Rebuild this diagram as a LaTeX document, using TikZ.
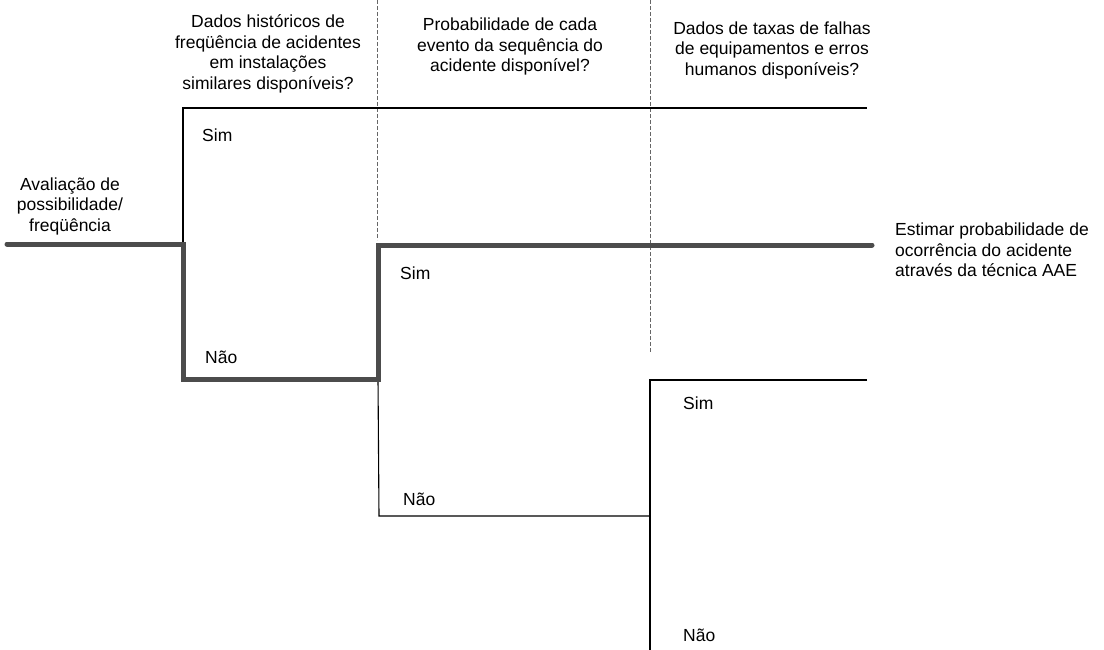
\documentclass[tikz,border=0pt]{standalone}
\usepackage{fontspec}
\setmainfont{Liberation Sans}
\begin{document}
\begin{tikzpicture}[x=1pt,y=-1pt,
  txt/.style={font=\fontsize{17.5}{20.5}\selectfont, inner sep=0pt, align=center},
  lbl/.style={font=\fontsize{17.5}{20.5}\selectfont, inner sep=0pt, anchor=west},
  thin/.style={draw=black, line width=1.1pt},
  boldpath/.style={draw=black!70, line width=5pt, line join=miter, line cap=round},
  divider/.style={draw=black!60, line width=0.6pt, dash pattern=on 4pt off 2pt}
]
\useasboundingbox (0,0) rectangle (1104,650);
% coordinates
\coordinate (start) at (7,244);
\coordinate (a1) at (183,244);
\coordinate (a1top) at (183,108);
\coordinate (a1end) at (867,108);
\coordinate (a1bot) at (183,379);
\coordinate (b1) at (378,379);
\coordinate (b1top) at (378,245);
\coordinate (goal) at (872,245);
\coordinate (b1bot) at (379,516);
\coordinate (c1) at (650,516);
\coordinate (c1top) at (650,380);
\coordinate (c1end) at (867,380);
\coordinate (c1bot) at (650,650);
\coordinate (d1t) at (377,0);
\coordinate (d1b) at (377,240);
\coordinate (d2t) at (650,0);
\coordinate (d2b) at (650,352);
% dividers
\draw[divider] (d1t) -- (d1b);
\draw[divider] (d2t) -- (d2b);
% thin branches
\draw[thin] (a1) -- (a1top) -- (a1end);
\draw[thin] (b1) -- (b1bot) -- (c1);
\draw[thin] (c1end) -- (c1top) -- (c1bot);
% bold path
\draw[boldpath] (start) -- (a1) -- (a1bot) -- (b1) -- (b1top) -- (goal);
% headers
\node[txt] (h1) at (268,54) {Dados históricos de\\freqüência de acidentes\\em instalações\\similares disponíveis?};
\node[txt] (h2) at (510,46.5) {Probabilidade de cada\\evento da sequência do\\acidente disponível?};
\node[txt] (h3) at (772,50) {Dados de taxas de falhas\\de equipamentos e erros\\humanos disponíveis?};
% side labels
\node[txt] (src) at (70,206) {Avaliação de\\possibilidade/\\freqüência};
\node[txt, align=left, anchor=west] (res) at (895,250) {Estimar probabilidade de\\ocorrência do acidente\\através da técnica AAE};
% branch labels
\node[lbl] (s1) at (202,135) {Sim};
\node[lbl] (n1) at (205,357) {Não};
\node[lbl] (s2) at (400,273) {Sim};
\node[lbl] (n2) at (403,499) {Não};
\node[lbl] (s3) at (683,403) {Sim};
\node[lbl] (n3) at (683,635) {Não};
\end{tikzpicture}
\end{document}
